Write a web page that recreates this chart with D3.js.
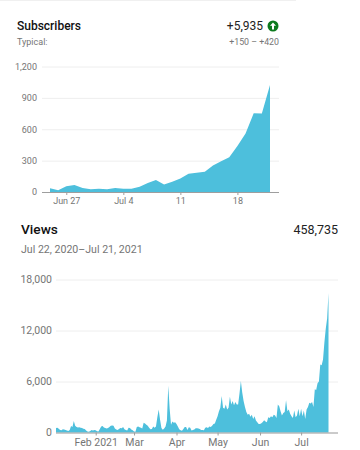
<!DOCTYPE html>
<html>
<head>
<meta charset="utf-8">
<script src="https://cdn.jsdelivr.net/npm/d3@7"></script>
<style>
  html, body { margin: 0; padding: 0; background: #fff; }
  svg { display: block; }
  text { font-family: Roboto, sans-serif; }
  .title { font-weight: 500; fill: #111; }
  .sub { fill: #757575; }
  .axis .domain { display: none; }
  .grid line { stroke: #eeeeee; }
  .ticklabel text { fill: #757575; }
</style>
</head>
<body>
<script>
var w = 360;
var h = 450;
var areaColor = "#4dbfdc";

// Subscribers, one value a day from Jun 25 to Jul 22
var subsStart = new Date(2021, 5, 25);
var subsValues = [35, 16, 54, 67, 38, 27, 32, 26, 38, 30, 32, 50, 85, 115, 72, 98, 130, 175, 183, 193, 254, 295, 333, 440, 560, 752, 750, 1022];
var subsYTicks = [0, 300, 600, 900, 1200];
var subsXTicks = [new Date(2021, 5, 27), new Date(2021, 6, 4), new Date(2021, 6, 11), new Date(2021, 6, 18)];
var subsXLabels = ["Jun 27", "Jul 4", "11", "18"];

// Views, one value a day from Jan 3 to Jul 21, split by month
var viewsStart = new Date(2021, 0, 3);
var viewsJan = [520, 560, 430, 300, 260, 380, 340, 300, 230, 180, 280, 760, 640, 1350, 800, 640, 600, 620, 560, 520, 430, 400, 240, 120, 90, 180, 280, 240, 300];
var viewsFeb = [260, 150, 120, 420, 700, 760, 600, 520, 480, 520, 640, 800, 820, 780, 480, 360, 300, 420, 520, 500, 640, 380, 300, 240, 560, 520, 360, 260];
var viewsMar = [120, 90, 650, 700, 620, 560, 480, 1150, 1050, 900, 780, 560, 380, 420, 700, 560, 700, 1800, 2700, 1500, 520, 320, 480, 700, 1400, 5500, 2800, 900, 1300, 1150, 1200];
var viewsApr = [1000, 700, 380, 260, 200, 420, 650, 640, 300, 620, 560, 240, 300, 350, 500, 500, 460, 400, 280, 280, 260, 560, 620, 520, 700, 640, 800, 1000, 1050, 1500];
var viewsMay = [1900, 2500, 2900, 4300, 2900, 2800, 3300, 2700, 2900, 4200, 3300, 3700, 3200, 3600, 3300, 3300, 4600, 6050, 4700, 3700, 3000, 2400, 2100, 2200, 1850, 2100, 1600, 1900, 1400, 1200, 1000];
var viewsJun = [1000, 1100, 1250, 1450, 1300, 1200, 1800, 1700, 1900, 1800, 2100, 2000, 1700, 3300, 3100, 2500, 2000, 2300, 2400, 3800, 2500, 2700, 2200, 1900, 1700, 2600, 1800, 2000, 2800, 1900];
var viewsJul = [2800, 1900, 2600, 1600, 2700, 3000, 3500, 3400, 3600, 3000, 5100, 5000, 5800, 6000, 8000, 7900, 8600, 10600, 12200, 13400, 16400];
var viewsValues = viewsJan.concat(viewsFeb, viewsMar, viewsApr, viewsMay, viewsJun, viewsJul);
var viewsYTicks = [0, 6000, 12000, 18000];
var viewsXTicks = [new Date(2021, 1, 1), new Date(2021, 2, 1), new Date(2021, 3, 1), new Date(2021, 4, 1), new Date(2021, 5, 1), new Date(2021, 6, 1)];
var viewsXLabels = ["Feb 2021", "Mar", "Apr", "May", "Jun", "Jul"];

var svg = d3.select("body").append("svg").attr("width", w).attr("height", h);

// Draws one area panel, the options say where its plot sits
function drawPanel(opts) {
  var dataset = opts.values.map(function (v, i) {
    return { date: d3.timeDay.offset(opts.start, i), value: v };
  });

  var xScale = d3
    .scaleTime()
    .domain([dataset[0].date, dataset[dataset.length - 1].date])
    .range([opts.dataLeft, opts.dataRight]);

  var yScale = d3
    .scaleLinear()
    .domain([0, opts.yMax])
    .range([opts.bottom, opts.top]);

  var yAxis = d3
    .axisLeft(yScale)
    .tickValues(opts.yTicks)
    .tickSize(-(opts.right - opts.left))
    .tickPadding(opts.yPad)
    .tickFormat(d3.format(","));

  var yGroup = svg
    .append("g")
    .attr("class", "axis grid ticklabel")
    .attr("transform", "translate(" + opts.left + ",0)")
    .call(yAxis);
  yGroup.selectAll("text").style("font-size", opts.yFont + "px");

  var area = d3
    .area()
    .x(function (d) {
      return xScale(d.date);
    })
    .y0(yScale(0))
    .y1(function (d) {
      return yScale(d.value);
    });

  svg.append("path").datum(dataset).attr("fill", areaColor).attr("d", area);

  // baseline runs the full plot width, wider than the data
  svg
    .append("line")
    .attr("x1", opts.left)
    .attr("x2", opts.right)
    .attr("y1", yScale(0) + 0.5)
    .attr("y2", yScale(0) + 0.5)
    .attr("stroke", "#9e9e9e");

  var xAxis = d3
    .axisBottom(xScale)
    .tickValues(opts.xTicks)
    .tickSize(3)
    .tickPadding(3)
    .tickFormat(function (d, i) {
      return opts.xLabels[i];
    });

  var xGroup = svg
    .append("g")
    .attr("class", "axis ticklabel")
    .attr("transform", "translate(0," + opts.bottom + ")")
    .call(xAxis);
  xGroup.selectAll("line").attr("stroke", "#9e9e9e");
  xGroup.selectAll("text").style("font-size", opts.xFont + "px");
}

drawPanel({
  start: subsStart,
  values: subsValues,
  yMax: 1200,
  yTicks: subsYTicks,
  xTicks: subsXTicks,
  xLabels: subsXLabels,
  left: 42,
  right: 279,
  dataLeft: 50,
  dataRight: 270,
  top: 66.5,
  bottom: 192,
  yPad: 5,
  yFont: 9,
  xFont: 9
});

drawPanel({
  start: viewsStart,
  values: viewsValues,
  yMax: 18000,
  yTicks: viewsYTicks,
  xTicks: viewsXTicks,
  xLabels: viewsXLabels,
  left: 56,
  right: 338,
  dataLeft: 56,
  dataRight: 328.5,
  top: 279.5,
  bottom: 432.5,
  yPad: 4,
  yFont: 10.5,
  xFont: 10.5
});

// Header texts
svg.append("line").attr("x1", 0).attr("x2", 296).attr("y1", 0.5).attr("y2", 0.5).attr("stroke", "#f0f0f0");
svg.append("text").attr("class", "title").attr("x", 17).attr("y", 30).style("font-size", "12px").text("Subscribers");
svg.append("text").attr("class", "sub").attr("x", 17).attr("y", 45).style("font-size", "9px").text("Typical:");
svg.append("text").attr("x", 263).attr("y", 30).attr("text-anchor", "end").style("font-size", "12px").attr("fill", "#222").text("+5,935");
svg.append("text").attr("class", "sub").attr("x", 279).attr("y", 45).attr("text-anchor", "end").style("font-size", "8.8px").text("+150 – +420");

// Green up arrow badge
svg.append("circle").attr("cx", 273).attr("cy", 26).attr("r", 5.5).attr("fill", "#0c7a1e");
svg.append("path").attr("d", "M273 22.5L276 25.8H274V29.5H272V25.8H270Z").attr("fill", "#fff");

svg.append("text").attr("class", "title").attr("x", 21).attr("y", 234).style("font-size", "13.7px").text("Views");
svg.append("text").attr("class", "sub").attr("x", 21).attr("y", 253).style("font-size", "10.6px").text("Jul 22, 2020–Jul 21, 2021");
svg.append("text").attr("x", 338).attr("y", 234).attr("text-anchor", "end").style("font-size", "12.5px").attr("fill", "#222").text("458,735");
</script>
</body>
</html>
